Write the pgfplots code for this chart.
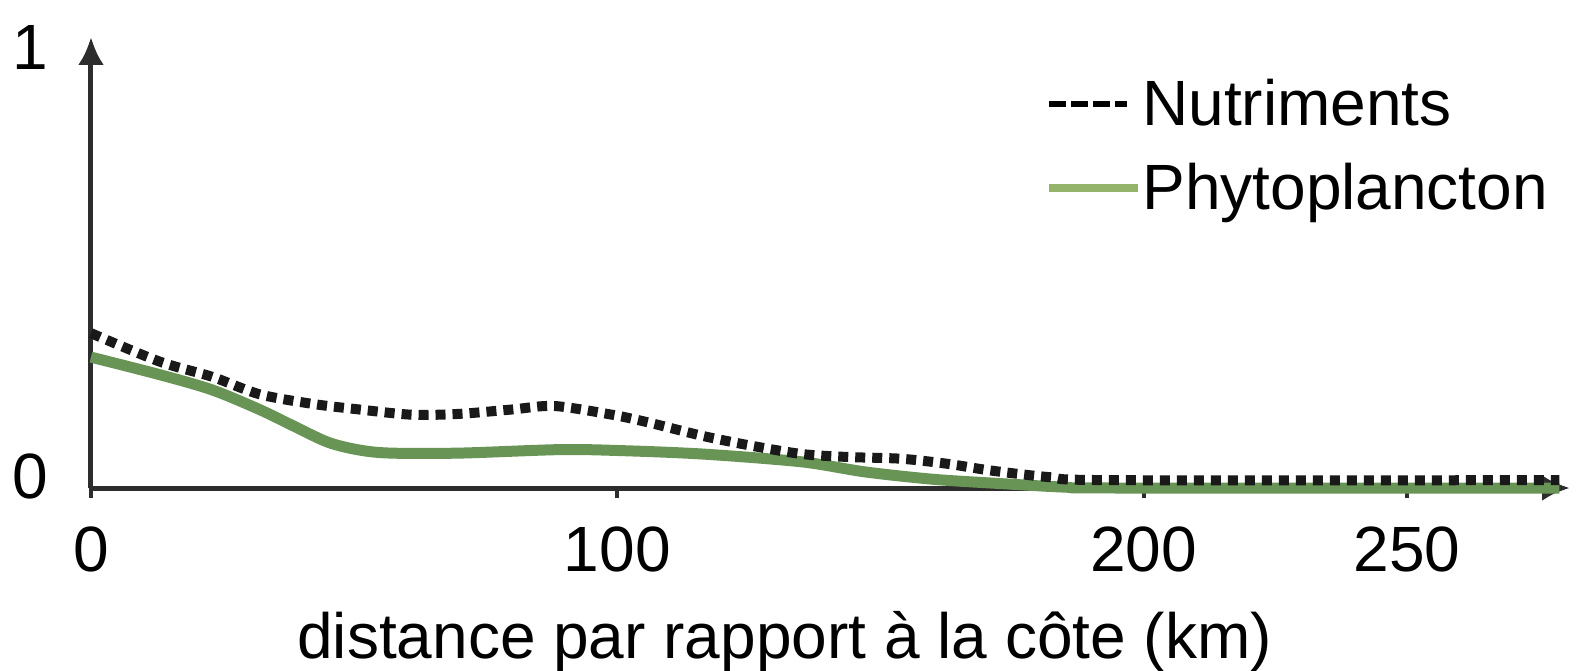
\documentclass[border=0pt]{standalone}
\usepackage{pgfplots}
\pgfplotsset{compat=1.18}
\usepackage{fontspec}
\setmainfont{Liberation Sans}
\usetikzlibrary{arrows.meta}
\definecolor{axgray}{RGB}{45,45,45}
\definecolor{phyto}{RGB}{104,148,86}
\definecolor{phytoleg}{RGB}{147,180,106}
\definecolor{nutri}{RGB}{25,25,25}
\begin{document}
\begin{tikzpicture}
\begin{axis}[
  scale only axis, width=739.5bp, height=225.5bp,
  xmin=0, xmax=281, ymin=0, ymax=1.034,
  axis lines=left,
  axis line style={axgray, line width=2.5bp, -{Latex[length=14bp,width=13bp]}},
  font=\fontsize{32bp}{38bp}\selectfont,
  /pgf/number format/assume math mode=true,
  xtick={0,100,200,250}, xticklabels={0,100,200,250},
  ytick={0,1}, yticklabels={\raisebox{8bp}{0},1},
  tick align=outside,
  major tick length=5bp,
  xtick style={axgray, line width=2bp},
  ytick style={draw=none},
  xticklabel style={anchor=north, inner sep=0pt, yshift=-14bp},
  yticklabel style={anchor=east, inner sep=0pt, xshift=-16.5bp, yshift=2bp},
  xlabel={distance par rapport à la côte (km)},
  x label style={at={(axis description cs:0.469,0)}, anchor=north, inner sep=0pt, yshift=-61.5bp},
  legend style={at={(rel axis cs:0.644,0.907)}, anchor=north west, draw=none, fill=none,
    inner sep=0pt, row sep=13bp, nodes={inner sep=0pt, text depth=0.15em},
    /tikz/every even column/.append style={column sep=10bp}},
  legend cell align=left,
  reverse legend,
  clip=false,
]
\coordinate (O) at (rel axis cs:0,0);
\addplot[phyto, line width=5.5bp, smooth, tension=0.5,
  legend image code/.code={\path (0bp,14bp); \draw[phytoleg, line width=4bp] (0bp,0bp) -- (44.5bp,0bp);}]
  coordinates {
  (0,0.30) (13,0.26) (23,0.225) (32,0.18) (38,0.145) (45,0.105) (51,0.087)
  (57,0.08) (70,0.08) (89,0.088) (100,0.086) (116,0.078) (135,0.06) (147,0.037)
  (160,0.02) (173,0.01) (185,0.002) (195,0) (279,0)
  };
\addlegendentry{Phytoplancton}
\addplot[nutri, line width=5bp, dash pattern=on 5bp off 3.5bp, smooth, tension=0.5,
  legend image code/.code={\draw[black, line width=3bp, dash pattern=on 8.5bp off 2.5bp] (0bp,0bp) -- (39bp,0bp);}]
  coordinates {
  (0,0.355) (13,0.29) (23,0.255) (32,0.215) (42,0.193) (51,0.18) (61,0.168)
  (70,0.17) (80,0.18) (88,0.188) (99,0.168) (106,0.15) (116,0.12) (125,0.098)
  (135,0.078) (144,0.071) (154,0.067) (163,0.055) (171,0.04) (182,0.025)
  (194,0.018) (279,0.018)
  };
\addlegendentry{Nutriments}
\end{axis}
\pgfresetboundingbox
\useasboundingbox (O) ++(-45.5bp,-91.5bp) rectangle ++(789bp,335.5bp);
\end{tikzpicture}
\end{document}
